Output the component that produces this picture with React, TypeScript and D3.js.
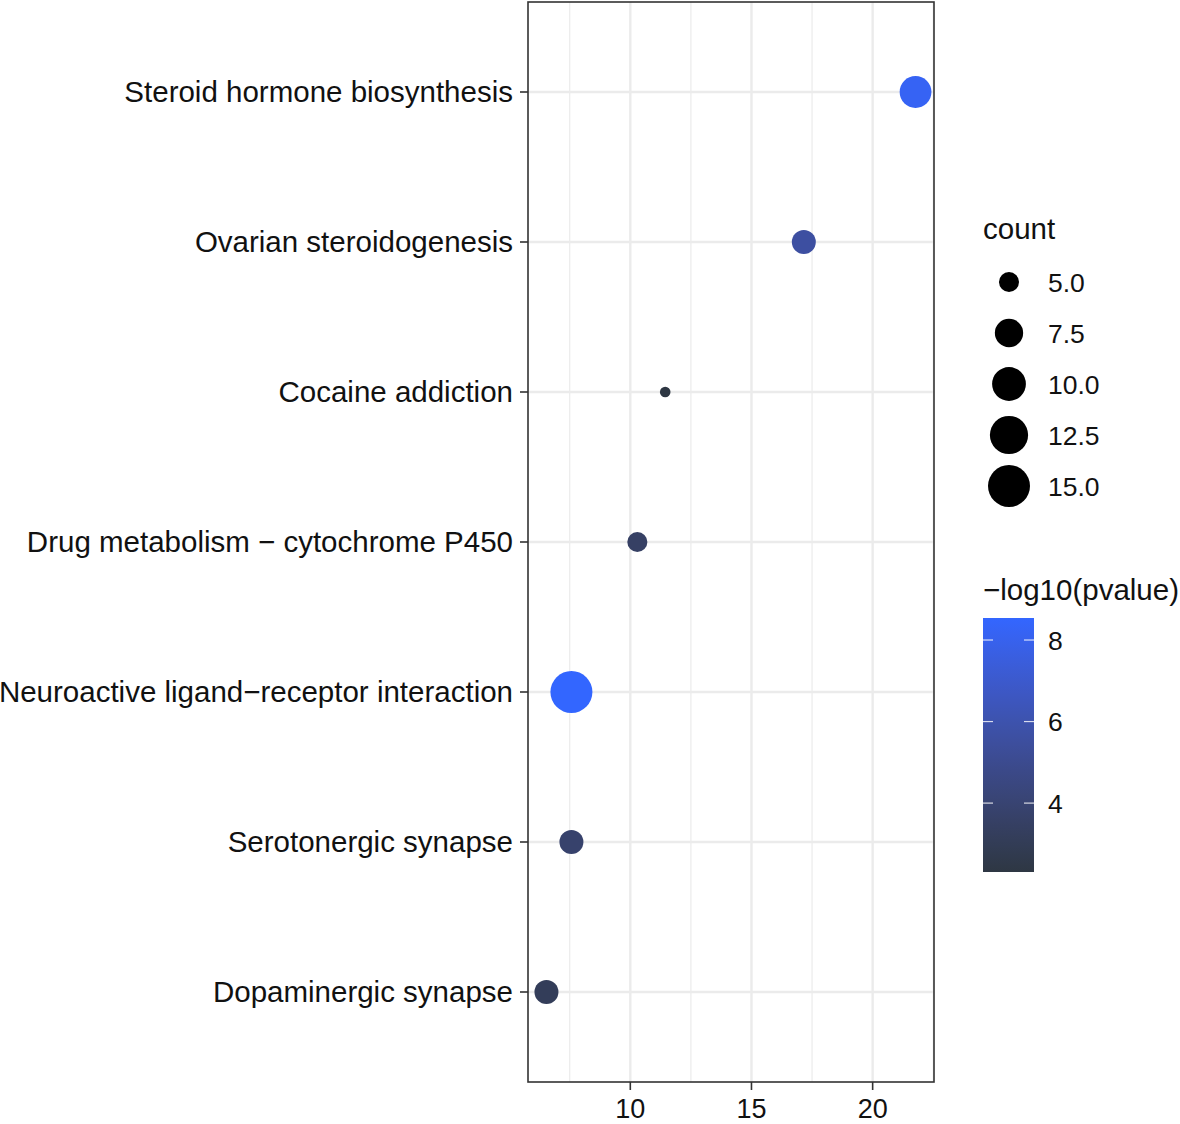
import React from 'react';
import * as d3 from 'd3';

// pathways, top to bottom
const pathways = [
  'Steroid hormone biosynthesis',
  'Ovarian steroidogenesis',
  'Cocaine addiction',
  'Drug metabolism \u2212 cytochrome P450',
  'Neuroactive ligand\u2212receptor interaction',
  'Serotonergic synapse',
  'Dopaminergic synapse',
];
const ratio = [21.77, 17.16, 11.44, 10.29, 7.57, 7.57, 6.54];
const counts = [9, 6, 4, 5, 15, 6, 6];
const logp = [8.2, 5.6, 2.31, 3.5, 8.54, 3.8, 3.1];

const xTicks = [10, 15, 20];
const xMinor = [7.5, 12.5, 17.5, 22.5];
const sizeBreaks = [5, 7.5, 10, 12.5, 15];
const colorBreaks = [4, 6, 8];

const W = 1180;
const H = 1124;
const panel = { left: 528, right: 934, top: 2, bottom: 1082 };
const font = '"Liberation Sans", Arial, sans-serif';

const App: React.FC = () => {
  const xMin = d3.min(ratio)!;
  const xMax = d3.max(ratio)!;
  const xPad = (xMax - xMin) * 0.05;
  const x = d3.scaleLinear()
    .domain([xMin - xPad, xMax + xPad])
    .range([panel.left, panel.right]);

  const step = (panel.bottom - panel.top) / (pathways.length - 1 + 1.2);
  const y = (i: number) => panel.top + step * (0.6 + i);

  const cMin = d3.min(logp)!;
  const cMax = d3.max(logp)!;
  const color = d3.scaleLinear<string>()
    .domain([cMin, cMax])
    .range(['#2E3743', '#3366FF'])
    .interpolate(d3.interpolateLab);

  const nMin = d3.min(counts)!;
  const nMax = d3.max(counts)!;
  const rPos = d3.scaleSqrt().domain([0, nMax - nMin]).range([0, 15.7]);
  const r = (v: number) => 5.3 + rPos(v - nMin);

  // colour bar
  const bar = { x: 983, w: 51, top: 618, bottom: 872 };
  const cy = d3.scaleLinear().domain([cMin, cMax]).range([bar.bottom, bar.top]);
  const stops = d3.range(0, 1.0001, 0.1);

  const keyY = d3.scaleLinear().domain([0, 4]).range([282, 486]);

  return (
    <div style={{ position: 'absolute', left: 0, top: 0 }}>
      <svg width={W} height={H} style={{ display: 'block', background: '#fff' }} fontFamily={font}>
        <defs>
          <linearGradient id="cbar" x1="0" y1="1" x2="0" y2="0">
            {stops.map(t => (
              <stop key={t} offset={t} stopColor={color(cMin + t * (cMax - cMin))} />
            ))}
          </linearGradient>
        </defs>

        {/* grid */}
        {xMinor.map(v => (
          <line key={'mi' + v} x1={x(v)} x2={x(v)} y1={panel.top} y2={panel.bottom}
            stroke="#ebebeb" strokeWidth={1.2} />
        ))}
        {xTicks.map(v => (
          <line key={'ma' + v} x1={x(v)} x2={x(v)} y1={panel.top} y2={panel.bottom}
            stroke="#ebebeb" strokeWidth={2.4} />
        ))}
        {pathways.map((p, i) => (
          <line key={'h' + p} x1={panel.left} x2={panel.right} y1={y(i)} y2={y(i)}
            stroke="#ebebeb" strokeWidth={2.4} />
        ))}

        {/* points */}
        {pathways.map((p, i) => (
          <circle key={'c' + p} cx={x(ratio[i])} cy={y(i)} r={r(counts[i])} fill={color(logp[i])} />
        ))}

        <rect x={panel.left} y={panel.top} width={panel.right - panel.left}
          height={panel.bottom - panel.top} fill="none" stroke="#333333" strokeWidth={1.6} />

        {/* y axis */}
        {pathways.map((p, i) => (
          <g key={'yl' + p}>
            <line x1={panel.left - 8} x2={panel.left} y1={y(i)} y2={y(i)} stroke="#333333" strokeWidth={1.6} />
            <text x={panel.left - 15} y={y(i)} dy="0.35em" textAnchor="end" fontSize={29.5} fill="#111">{p}</text>
          </g>
        ))}

        {/* x axis */}
        {xTicks.map(v => (
          <g key={'xl' + v}>
            <line x1={x(v)} x2={x(v)} y1={panel.bottom} y2={panel.bottom + 8} stroke="#333333" strokeWidth={1.6} />
            <text x={x(v)} y={1118} textAnchor="middle" fontSize={27} fill="#111">{v}</text>
          </g>
        ))}

        {/* size legend */}
        <text x={983} y={239} fontSize={29.5} fill="#111">count</text>
        {sizeBreaks.map((v, i) => (
          <g key={'s' + v}>
            <circle cx={1009} cy={keyY(i)} r={r(v)} fill="#000" />
            <text x={1048} y={keyY(i)} dy="0.36em" fontSize={26.5} fill="#111">{v.toFixed(1)}</text>
          </g>
        ))}

        {/* colour legend */}
        <text x={983} y={600} fontSize={29.5} fill="#111">{'\u2212log10(pvalue)'}</text>
        <rect x={bar.x} y={bar.top} width={bar.w} height={bar.bottom - bar.top} fill="url(#cbar)" />
        {colorBreaks.map(v => (
          <g key={'cb' + v}>
            <line x1={bar.x} x2={bar.x + 10} y1={cy(v)} y2={cy(v)} stroke="#fff" strokeWidth={1.2} opacity={0.8} />
            <line x1={bar.x + bar.w - 10} x2={bar.x + bar.w} y1={cy(v)} y2={cy(v)} stroke="#fff" strokeWidth={1.2} opacity={0.8} />
            <text x={1048} y={cy(v)} dy="0.36em" fontSize={26.5} fill="#111">{v}</text>
          </g>
        ))}
      </svg>
    </div>
  );
};

export default App;
